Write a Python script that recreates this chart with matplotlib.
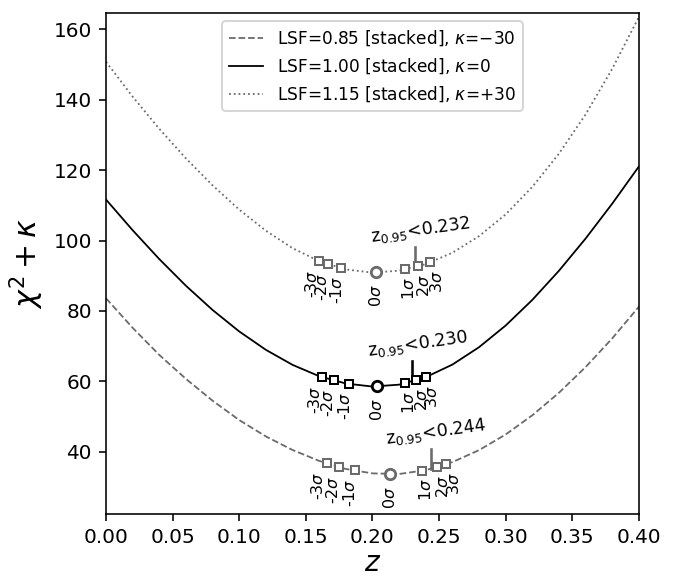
import numpy as np
import matplotlib
matplotlib.use("Agg")
import matplotlib.pyplot as plt

# ---- data ----
z_grid = [0.00, 0.02, 0.04, 0.06, 0.08, 0.10, 0.12, 0.14, 0.16, 0.18, 0.20,
          0.22, 0.24, 0.26, 0.28, 0.30, 0.32, 0.34, 0.36, 0.38, 0.40]

chi_085 = [83.6, 75.2, 67.5, 60.7, 54.5, 49.0, 44.35, 40.5, 37.4, 35.1, 33.85,
           33.67, 34.77, 37.05, 40.45, 44.9, 50.35, 56.75, 64.05, 72.2, 81.2]
chi_100 = [111.66, 102.94, 94.74, 87.16, 80.28, 74.18, 68.96, 64.69, 61.47, 59.39, 58.52,
           59.06, 61.18, 64.76, 69.70, 75.86, 83.14, 91.42, 100.57, 110.49, 121.05]
chi_115 = [150.8, 140.9, 131.75, 123.35, 115.7, 108.8, 102.8, 97.85, 94.15, 91.8, 90.9,
           91.45, 93.3, 96.55, 101.25, 107.45, 115.25, 124.7, 135.85, 148.8, 163.55]

sig_085 = [0.1656, 0.1752, 0.1867, 0.2135, 0.2372, 0.2482, 0.2555]
sig_100 = [0.1624, 0.1712, 0.1824, 0.2035, 0.2247, 0.2330, 0.2402]
sig_115 = [0.1600, 0.1669, 0.1765, 0.2024, 0.2245, 0.2342, 0.2432]

z95 = [0.244, 0.230, 0.232]
sigma_labels = ['-3$\\sigma$', '-2$\\sigma$', '-1$\\sigma$', '0$\\sigma$',
                '1$\\sigma$', '2$\\sigma$', '3$\\sigma$']
legend_labels = ['LSF=0.85 [stacked], $\\kappa$=$-$30',
                 'LSF=1.00 [stacked], $\\kappa$=0',
                 'LSF=1.15 [stacked], $\\kappa$=+30']

# ---- figure ----
fig = plt.figure(figsize=(4.75, 4.0), dpi=144)
ax = fig.add_axes([0.155, 0.1076, 0.779, 0.870])

gray = '0.42'
series = [
    (chi_085, sig_085, z95[0], '--', gray),
    (chi_100, sig_100, z95[1], '-', 'black'),
    (chi_115, sig_115, z95[2], ':', gray),
]

for (chi, sig, zq, ls, col), lab in zip(series, legend_labels):
    ax.plot(z_grid, chi, ls=ls, color=col, lw=0.9, label=lab)
    ys = np.interp(sig, z_grid, chi)
    z0 = sig[3]
    for i, (zs, yv) in enumerate(zip(sig, ys)):
        if i == 3:
            ax.plot(zs, yv, 'o', ms=5.2, mfc='white', mec=col, mew=1.4, zorder=5)
            off = 6.0
        else:
            ax.plot(zs, yv, 's', ms=3.6, mfc='white', mec=col, mew=1.0, zorder=5)
            off = 4.0
        xl = z0 + 1.13 * (zs - z0)
        ax.annotate(sigma_labels[i], (xl, yv), xytext=(0, -off),
                    textcoords='offset points', rotation=90,
                    ha='center', va='top', fontsize=8, color='black')
    yq = np.interp(zq, z_grid, chi)
    ax.plot([zq, zq], [yq, yq + 5.6], color=col, lw=1.3, zorder=4)
    ax.annotate('z$_{0.95}$<%.3f' % zq, (zq, yq + 5.6), xytext=(2.5, 0),
                textcoords='offset points', rotation=8,
                ha='center', va='bottom', fontsize=8.7)

ax.set_xlim(0.0, 0.40)
ax.set_ylim(22.3, 164.7)
ax.set_xticks(np.arange(0, 0.401, 0.05))
ax.set_yticks([40, 60, 80, 100, 120, 140, 160])
ax.tick_params(labelsize=10)
ax.set_xlabel('$z$', fontsize=14, labelpad=1)
ax.set_ylabel('$\\chi^2 + \\kappa$', fontsize=15)

ax.legend(loc='upper center', fontsize=8.5)

fig.savefig('out.png', dpi=144)
